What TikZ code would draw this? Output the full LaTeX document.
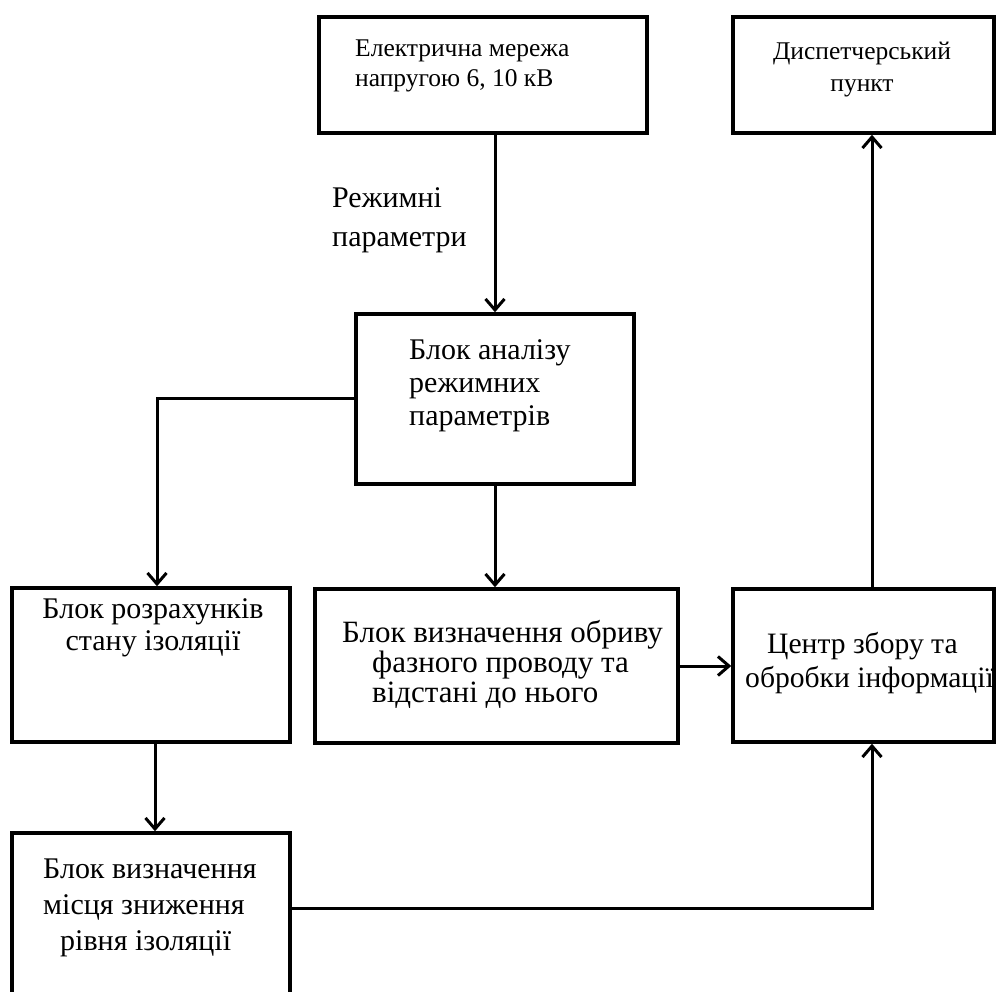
\documentclass[tikz,border=0pt]{standalone}
\usepackage{fontspec}
\setmainfont{Liberation Serif}
\usetikzlibrary{arrows.meta}
\newcommand{\tl}[1]{\begin{tabular}[t]{@{}l@{}}#1\end{tabular}}
\newcommand{\tc}[1]{\begin{tabular}[t]{@{}c@{}}#1\end{tabular}}
\tikzset{
  box/.style={draw, line width=3.5pt, inner sep=0pt},
  arr/.style={line width=3pt, -{Straight Barb[length=11pt,width=19pt,line width=3pt]}},
  txt/.style={inner sep=0pt, anchor=base west},
  ctxt/.style={inner sep=0pt, anchor=base},
}
\begin{document}
\begin{tikzpicture}[x=1pt,y=-1pt]
\useasboundingbox (0,0) rectangle (1005,992);
% boxes
\node[box, minimum width=328pt, minimum height=116pt] (A) at (483,75) {};
\node[box, minimum width=261pt, minimum height=116pt] (D) at (863.5,75) {};
\node[box, minimum width=278pt, minimum height=170pt] (B) at (495,399) {};
\node[box, minimum width=278pt, minimum height=154pt] (C) at (151,665) {};
\node[box, minimum width=363pt, minimum height=154pt] (E) at (496.5,666) {};
\node[box, minimum width=261pt, minimum height=153pt] (F) at (863.5,665.5) {};
\node[box, minimum width=278pt, minimum height=180pt] (G) at (151,923) {};
% texts
\node[txt, font=\fontsize{25.5}{30}\selectfont] (tA) at (355,57) {\tl{Електрична мережа\\напругою 6, 10 кВ}};
\node[ctxt, font=\fontsize{25.5}{32}\selectfont] (tD) at (862,60) {\tc{Диспетчерський\\пункт}};
\node[txt, font=\fontsize{30}{39}\selectfont] (tL) at (332,208) {\tl{Режимні\\параметри}};
\node[txt, font=\fontsize{30}{33}\selectfont] (tB) at (409,360) {\tl{Блок аналізу\\режимних\\параметрів}};
\node[ctxt, font=\fontsize{30}{32}\selectfont] (tC) at (153,618) {\tc{Блок розрахунків\\стану ізоляції}};
\node[txt, font=\fontsize{31}{30}\selectfont] (tE) at (342,642) {\tl{Блок визначення обриву\\\hspace*{30pt}фазного проводу та\\\hspace*{30pt}відстані до нього}};
\node[txt, font=\fontsize{29.6}{34}\selectfont] (tF) at (745,653) {\tl{\hspace*{22pt}Центр збору та\\обробки інформації}};
\node[txt, font=\fontsize{30}{36}\selectfont] (tG) at (43,878) {\tl{Блок визначення\\місця зниження\\\hspace*{17pt}рівня ізоляції}};
% connectors
\draw[arr] (A.south -| B.north) -- (B.north);
\draw[arr] (B.west) -| ([xshift=6pt]C.north);
\draw[arr] (B.south) -- (B.south |- E.north);
\draw[arr] (E.east) -- (E.east -| F.west);
\draw[arr] ([xshift=8.5pt]F.north) -- ([xshift=8.5pt]D.south);
\draw[arr] ([xshift=4pt]C.south) -- ([xshift=4pt]G.north);
\draw[arr] ([yshift=15pt]G.east) -| ([xshift=8.5pt]F.south);
\end{tikzpicture}
\end{document}
